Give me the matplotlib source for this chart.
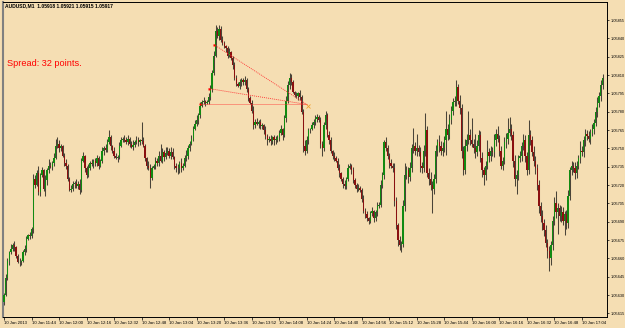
import matplotlib
matplotlib.use('Agg')
import matplotlib.pyplot as plt
import numpy as np

plt.rcParams['font.family'] = ['Liberation Sans', 'DejaVu Sans']

# Chart texts
header_text = 'AUDUSD,M1  1.05918 1.05921 1.05915 1.05917'
spread_text = 'Spread: 32 points.'

# Prices are kept in points above 1.05000 (1 point = 0.00001)
base_price = 1.05
point = 0.00001
first_open = 624

close_pts = [
    630, 644, 658, 665, 668, 671, 669, 662, 657, 657,
    658, 665, 668, 676, 679, 678, 684, 725, 720, 730,
    714, 728, 732, 717, 724, 732, 736, 735, 738, 742,
    752, 754, 750, 752, 744, 738, 736, 725, 716, 717,
    721, 722, 719, 721, 716, 740, 744, 734, 728, 734,
    738, 737, 740, 738, 742, 736, 740, 748, 750, 749,
    755, 759, 752, 748, 744, 742, 743, 752, 757, 758,
    757, 755, 758, 754, 751, 753, 755, 757, 755, 757,
    756, 752, 742, 736, 734, 726, 734, 736, 740, 738,
    744, 740, 747, 743, 746, 748, 744, 747, 743, 736,
    734, 734, 738, 734, 736, 742, 744, 750, 754, 758,
    766, 770, 773, 777, 785, 788, 789, 787, 788, 792,
    799, 812, 826, 846, 842, 848, 839, 836, 834, 832,
    826, 829, 824, 818, 808, 803, 801, 804, 806, 804,
    806, 799, 791, 787, 781, 769, 772, 770, 772, 768,
    769, 765, 760, 757, 758, 756, 759, 757, 757, 759,
    763, 766, 761, 775, 789, 802, 808, 804, 796, 794,
    793, 795, 792, 780, 752, 748, 757, 765, 766, 769,
    772, 774, 776, 773, 754, 750, 769, 777, 761, 757,
    748, 744, 742, 740, 734, 730, 725, 721, 719, 725,
    734, 736, 732, 724, 720, 717, 718, 716, 709, 699,
    696, 693, 691, 697, 699, 693, 698, 703, 704, 720,
    728, 755, 750, 744, 738, 736, 734, 707, 687, 675,
    671, 672, 703, 728, 732, 727, 734, 750, 752, 748,
    750, 747, 736, 734, 748, 765, 730, 725, 720, 717,
    725, 748, 755, 752, 748, 750, 757, 766, 761, 773,
    781, 788, 789, 800, 789, 783, 748, 732, 752, 757,
    761, 757, 754, 750, 747, 752, 761, 742, 732, 728,
    736, 747, 744, 748, 747, 757, 762, 758, 748, 736,
    740, 755, 758, 763, 766, 761, 740, 725, 728, 742,
    744, 752, 757, 744, 732, 761, 757, 747, 740, 734,
    720, 703, 695, 689, 683, 673, 666, 660, 671, 691,
    705, 698, 701, 695, 698, 691, 696, 689, 711, 732,
    736, 734, 730, 736, 742, 748, 747, 757, 762, 760,
    758, 763, 766, 771, 780, 787, 793, 802, 808,
]

upper_wick = [
    2, 3, 2, 1, 4, 2, 3, 1, 2, 3,
    1, 2, 3, 2, 1, 3, 2, 4, 3, 2,
    6, 2, 3, 1, 4, 2, 5, 3, 2, 4,
    6, 5, 3, 2, 1, 2, 3, 1, 2, 3,
    2, 1, 3, 2, 4, 2, 3, 1, 2, 3,
    2, 3, 1, 2, 3, 2, 1, 3, 2, 4,
    3, 6, 2, 1, 3, 2, 2, 3, 2, 1,
    3, 2, 3, 1, 2, 4, 2, 3, 2, 1,
    15, 3, 2, 1, 4, 3, 2, 1, 3, 2,
    4, 10, 3, 2, 5, 3, 2, 4, 3, 1,
    2, 3, 2, 4, 2, 3, 5, 3, 2, 3,
    2, 3, 4, 2, 3, 2, 3, 1, 2, 3,
    3, 2, 4, 5, 3, 3, 2, 3, 2, 1,
    2, 3, 1, 2, 3, 2, 1, 3, 2, 2,
    3, 2, 1, 2, 3, 4, 2, 3, 1, 2,
    2, 1, 3, 2, 2, 3, 1, 2, 3, 2,
    2, 3, 1, 2, 4, 3, 4, 3, 2, 1,
    2, 1, 3, 2, 2, 5, 3, 2, 1, 3,
    2, 3, 2, 1, 3, 2, 3, 4, 2, 3,
    2, 1, 3, 2, 2, 3, 1, 2, 3, 2,
    3, 2, 1, 3, 2, 2, 3, 1, 2, 3,
    2, 3, 1, 2, 3, 1, 2, 3, 2, 4,
    3, 2, 4, 3, 2, 3, 2, 4, 3, 2,
    3, 2, 5, 10, 4, 3, 5, 4, 15, 3,
    12, 3, 4, 3, 5, 14, 3, 4, 6, 3,
    4, 5, 3, 6, 4, 5, 3, 15, 4, 5,
    4, 3, 4, 6, 3, 5, 3, 4, 6, 5,
    20, 5, 18, 4, 12, 5, 4, 3, 5, 3,
    4, 10, 3, 4, 3, 5, 4, 6, 3, 4,
    3, 4, 5, 12, 10, 4, 3, 5, 4, 3,
    4, 3, 5, 4, 3, 12, 4, 3, 5, 4,
    3, 4, 3, 5, 3, 4, 3, 4, 3, 4,
    5, 10, 4, 3, 5, 4, 3, 4, 5, 3,
    4, 3, 5, 4, 3, 8, 4, 3, 4, 3,
    4, 3, 4, 3, 4, 5, 3, 4, 3,
]

lower_wick = [
    2, 1, 2, 3, 1, 2, 3, 2, 1, 3,
    2, 1, 2, 3, 1, 2, 1, 3, 2, 1,
    2, 3, 1, 2, 6, 4, 2, 1, 3, 2,
    1, 2, 3, 2, 1, 2, 3, 2, 1, 2,
    2, 3, 1, 2, 3, 2, 1, 3, 2, 1,
    2, 1, 3, 2, 2, 3, 1, 2, 3, 2,
    2, 1, 3, 2, 2, 1, 3, 2, 1, 2,
    2, 1, 2, 3, 1, 2, 2, 1, 3, 2,
    2, 1, 2, 3, 2, 8, 2, 1, 3, 2,
    2, 1, 2, 3, 2, 1, 2, 3, 2, 3,
    3, 5, 4, 3, 2, 1, 2, 3, 2, 1,
    2, 1, 2, 3, 2, 1, 2, 2, 1, 2,
    2, 3, 2, 1, 2, 3, 2, 1, 2, 3,
    2, 1, 2, 3, 2, 2, 1, 2, 3, 2,
    2, 3, 2, 1, 2, 3, 2, 1, 3, 2,
    2, 3, 2, 4, 2, 3, 2, 4, 3, 2,
    3, 2, 4, 2, 3, 2, 3, 2, 1, 2,
    2, 3, 2, 2, 5, 3, 2, 3, 2, 1,
    2, 3, 2, 1, 4, 6, 2, 3, 2, 3,
    2, 3, 2, 1, 2, 3, 2, 3, 2, 2,
    2, 1, 3, 2, 2, 3, 2, 2, 3, 2,
    3, 2, 3, 2, 2, 3, 2, 3, 2, 2,
    2, 3, 2, 3, 4, 2, 3, 4, 3, 5,
    4, 6, 3, 4, 3, 5, 4, 3, 4, 3,
    4, 3, 5, 4, 3, 4, 3, 5, 4, 20,
    4, 3, 4, 5, 3, 4, 3, 12, 4, 3,
    3, 4, 3, 4, 3, 5, 6, 4, 3, 4,
    3, 4, 3, 4, 5, 3, 4, 3, 5, 8,
    4, 3, 5, 4, 3, 4, 5, 3, 4, 3,
    4, 3, 5, 4, 3, 4, 5, 6, 12, 4,
    3, 4, 3, 5, 4, 3, 4, 3, 4, 5,
    4, 6, 5, 6, 5, 4, 6, 10, 5, 4,
    4, 5, 18, 4, 5, 4, 12, 5, 4, 3,
    4, 3, 5, 4, 3, 4, 3, 4, 5, 3,
    3, 4, 3, 4, 3, 4, 3, 4, 3,
]

# time axis: one label every 16 one-minute bars
time_labels = ['10 Jan 2013', '10 Jan 11:44', '10 Jan 12:00', '10 Jan 12:16',
               '10 Jan 12:32', '10 Jan 12:48', '10 Jan 13:04', '10 Jan 13:20',
               '10 Jan 13:36', '10 Jan 13:52', '10 Jan 14:08', '10 Jan 14:24',
               '10 Jan 14:40', '10 Jan 14:56', '10 Jan 15:12', '10 Jan 15:28',
               '10 Jan 15:44', '10 Jan 16:00', '10 Jan 16:16', '10 Jan 16:32',
               '10 Jan 16:48', '10 Jan 17:04']
label_step = 16

price_labels = ['1.05615', '1.05630', '1.05645', '1.05660', '1.05675', '1.05690',
                '1.05705', '1.05720', '1.05735', '1.05750', '1.05765', '1.05780',
                '1.05795', '1.05810', '1.05825', '1.05840', '1.05855']

# dotted red fan lines: start bar / start points, common end
fan_start_bars = [122, 119, 114]
fan_start_pts = [835, 799, 786]
fan_end_bar = 176
fan_end_pts = 786

BG = '#F5DEB3'
UP = '#118a11'
DOWN = '#8a1010'
WICK = '#4a4438'

c = base_price + np.array(close_pts) * point
o = base_price + np.array([first_open] + close_pts[:-1]) * point
h = np.maximum(o, c) + np.array(upper_wick) * point
l = np.minimum(o, c) - np.array(lower_wick) * point
x = np.arange(len(c))

fig = plt.figure(figsize=(6.25, 3.28), dpi=100, facecolor=BG)
ax = fig.add_axes([3 / 625, 11 / 328, 604 / 625, 315 / 328])
ax.set_facecolor(BG)

ax.vlines(x, l, h, color=WICK, lw=0.75, zorder=2)
body_bottom = np.minimum(o, c)
body_h = np.maximum(np.abs(c - o), 0.4 * point)
colors = [UP if cc >= oo else DOWN for oo, cc in zip(o, c)]
ax.bar(x, body_h, bottom=body_bottom, width=0.75, color=colors, linewidth=0, zorder=3)

# fan lines
for sb, sp in zip(fan_start_bars, fan_start_pts):
    ax.plot([sb, fan_end_bar], [base_price + sp * point, base_price + fan_end_pts * point],
            color='#ff3030', lw=0.6, ls=(0, (1.2, 1.2)), zorder=4)
    ax.plot(sb, base_price + sp * point, marker='s', ms=1.8, color='#ff0000',
            mec='none', zorder=5)
ax.plot(fan_end_bar + 1, base_price + (fan_end_pts - 1) * point, marker='x', ms=2.2,
        mew=0.6, color='#f0a030', zorder=5)

ax.set_xlim(-0.6, 350.6)
ax.set_ylim(base_price + 612.1 * point, base_price + 869.8 * point)

ax.yaxis.tick_right()
ax.set_yticks([float(p) for p in price_labels])
ax.set_yticklabels(price_labels)
ax.set_xticks(np.arange(len(time_labels)) * label_step)
ax.set_xticklabels(time_labels, ha='left')
ax.tick_params(axis='y', length=1.5, width=0.5, labelsize=2.8, pad=0.8, colors='black')
ax.tick_params(axis='x', length=2, width=0.5, labelsize=3.1, pad=1, colors='black')
for s in ax.spines.values():
    s.set_linewidth(0.7)
    s.set_color('black')
ax.spines['left'].set_color('#808080')
ax.spines['left'].set_linewidth(1.5)

fig.text(5 / 625, 1 - 6 / 328, header_text, fontsize=3.6, fontweight='bold',
         va='center', ha='left', color='black')
fig.text(7 / 625, 1 - 64 / 328, spread_text, fontsize=6.6,
         va='center', ha='left', color='#ff0000')

fig.savefig('out.png', dpi=100, facecolor=BG)
